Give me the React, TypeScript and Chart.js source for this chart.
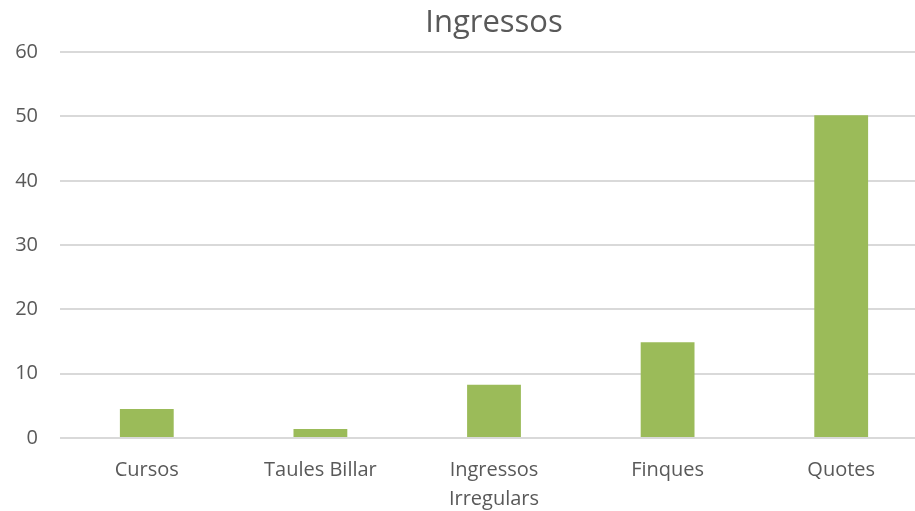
import React, { useEffect, useRef } from "react";
import { Chart, registerables } from "chart.js";

Chart.register(...registerables);

const categories: (string | string[])[] = ["Cursos", "Taules Billar", ["Ingressos", "Irregulars"], "Finques", "Quotes"];
const values: number[] = [4.5, 1.4, 8.3, 14.9, 50.2];
const yMin = 0;
const yMax = 60;
const yStep = 10;
const title = "Ingressos";

export default function App() {
  const ref = useRef<HTMLCanvasElement | null>(null);
  useEffect(() => {
    document.body.style.margin = "0";
    document.body.style.overflow = "hidden";
    if (!ref.current) return;
    const chart = new Chart(ref.current, {
      type: "bar",
      data: {
        labels: categories,
        datasets: [
          {
            data: values,
            backgroundColor: "#9BBB59",
            borderWidth: 0,
            barPercentage: 0.31,
            categoryPercentage: 1,
          },
        ],
      },
      options: {
        animation: false,
        responsive: false,
        maintainAspectRatio: false,
        layout: { padding: { left: 0, right: 0, top: 0, bottom: 0 } },
        plugins: {
          legend: { display: false },
          tooltip: { enabled: false },
          title: {
            display: true,
            text: title,
            fullSize: false,
            color: "#595959",
            font: { family: "'Open Sans', sans-serif", size: 31, weight: "normal" },
            padding: { top: 5, bottom: 10 },
          },
        },
        scales: {
          x: {
            grid: { display: false },
            border: { display: false },
            ticks: {
              color: "#595959",
              font: { family: "'Open Sans', sans-serif", size: 20, lineHeight: 1.45 },
              padding: 10,
              maxRotation: 0,
              autoSkip: false,
            },
            afterFit: (s: any) => {
              s.height = 73;
            },
          },
          y: {
            min: yMin,
            max: yMax,
            grid: { color: "#D9D9D9", lineWidth: 2, drawTicks: false },
            border: { display: false },
            ticks: {
              stepSize: yStep,
              color: "#595959",
              font: { family: "'Open Sans', sans-serif", size: 20 },
              padding: 22,
            },
            afterFit: (s: any) => {
              s.width = 60;
            },
          },
        },
      },
    });
    return () => chart.destroy();
  }, []);
  return (
    <div style={{ width: 915, height: 511, overflow: "hidden", position: "relative", background: "#fff" }}>
      <canvas ref={ref} width={928} height={511} style={{ position: "absolute", left: 0, top: 0 }} />
    </div>
  );
}
